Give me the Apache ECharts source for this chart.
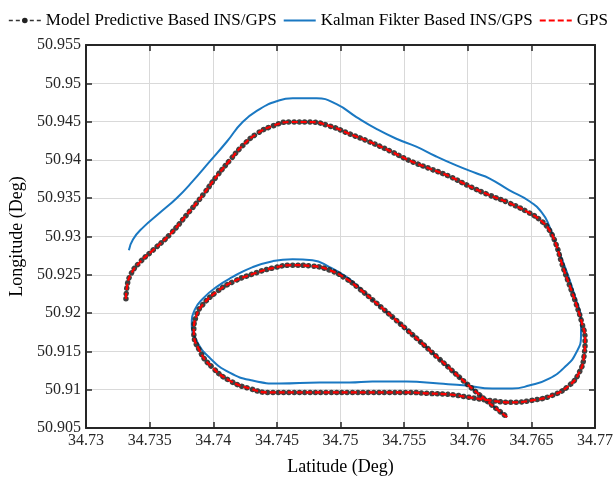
<!DOCTYPE html>
<html>
<head>
<meta charset="utf-8">
<script src="https://cdn.jsdelivr.net/npm/echarts@6/dist/echarts.min.js"></script>
<style>
  html, body { margin: 0; padding: 0; background: #fff; }
  #main { width: 616px; height: 481px; }
</style>
</head>
<body>
<div id="main"></div>
<script>
// 轴刻度
var latTicks = [34.73, 34.77, 0.005];
var lonTicks = [50.905, 50.955, 0.005];

// GPS 轨迹 [纬度, 经度]
var gpsTrack = [
    [34.73314, 50.92188], [34.73322, 50.92343], [34.73353, 50.92510], [34.73424, 50.92665],
    [34.73525, 50.92820], [34.73659, 50.93026], [34.73792, 50.93284], [34.73918, 50.93541],
    [34.74027, 50.93786], [34.74129, 50.93992], [34.74231, 50.94186], [34.74341, 50.94340],
    [34.74467, 50.94443], [34.74600, 50.94495], [34.74757, 50.94495], [34.74914, 50.94443],
    [34.75071, 50.94340], [34.75227, 50.94237], [34.75384, 50.94121], [34.75541, 50.93992],
    [34.75698, 50.93889], [34.75855, 50.93786], [34.76012, 50.93657], [34.76169, 50.93541],
    [34.76325, 50.93438], [34.76482, 50.93309], [34.76576, 50.93206], [34.76639, 50.93090],
    [34.76694, 50.92897], [34.76741, 50.92639], [34.76796, 50.92381], [34.76851, 50.92124],
    [34.76898, 50.91866], [34.76922, 50.91660], [34.76914, 50.91441], [34.76875, 50.91222],
    [34.76796, 50.91054], [34.76663, 50.90925], [34.76506, 50.90861], [34.76349, 50.90835],
    [34.76169, 50.90861], [34.76012, 50.90900], [34.75855, 50.90938], [34.75698, 50.90951],
    [34.75541, 50.90964], [34.75384, 50.90964], [34.75227, 50.90964], [34.75071, 50.90964],
    [34.74914, 50.90964], [34.74757, 50.90964], [34.74600, 50.90964], [34.74443, 50.90964],
    [34.74286, 50.91015], [34.74129, 50.91119], [34.73996, 50.91286], [34.73894, 50.91505],
    [34.73847, 50.91763], [34.73871, 50.91982], [34.73918, 50.92111], [34.74027, 50.92278],
    [34.74153, 50.92407], [34.74310, 50.92510], [34.74467, 50.92588], [34.74624, 50.92626],
    [34.74780, 50.92613], [34.74914, 50.92562], [34.75047, 50.92446], [34.75149, 50.92317],
    [34.75251, 50.92175], [34.75518, 50.91789], [34.75776, 50.91402], [34.76035, 50.91015],
    [34.76192, 50.90796], [34.76310, 50.90642]
];

// 模型预测 INS/GPS 轨迹 (与 GPS 基本重合)
var mpcTrack = gpsTrack;

// 卡尔曼滤波 INS/GPS 轨迹
var kfTrack = [
    [34.73337, 50.92820], [34.73369, 50.92961], [34.73447, 50.93116], [34.73580, 50.93309],
    [34.73714, 50.93503], [34.73839, 50.93722], [34.73973, 50.93980], [34.74106, 50.94237],
    [34.74231, 50.94495], [34.74365, 50.94663], [34.74498, 50.94766], [34.74624, 50.94804],
    [34.74812, 50.94804], [34.74969, 50.94727], [34.75125, 50.94559], [34.75282, 50.94405],
    [34.75439, 50.94276], [34.75596, 50.94173], [34.75753, 50.94044], [34.75910, 50.93928],
    [34.76067, 50.93825], [34.76169, 50.93760], [34.76325, 50.93606], [34.76482, 50.93464],
    [34.76584, 50.93309], [34.76639, 50.93142], [34.76694, 50.92897], [34.76773, 50.92562],
    [34.76851, 50.92175], [34.76890, 50.91918], [34.76890, 50.91699], [34.76851, 50.91479],
    [34.76773, 50.91312], [34.76639, 50.91144], [34.76482, 50.91054], [34.76349, 50.91015],
    [34.76192, 50.91015], [34.75988, 50.91054], [34.75776, 50.91080], [34.75518, 50.91106],
    [34.75251, 50.91106], [34.75071, 50.91093], [34.74835, 50.91093], [34.74522, 50.91080],
    [34.74310, 50.91119], [34.74129, 50.91222], [34.73973, 50.91415], [34.73871, 50.91634],
    [34.73831, 50.91853], [34.73855, 50.92046], [34.73918, 50.92188], [34.74027, 50.92343],
    [34.74153, 50.92472], [34.74310, 50.92601], [34.74467, 50.92678], [34.74624, 50.92704],
    [34.74780, 50.92691], [34.74914, 50.92601], [34.75047, 50.92472], [34.75149, 50.92330],
    [34.75251, 50.92175], [34.75518, 50.91789], [34.75776, 50.91402], [34.76035, 50.91015],
    [34.76192, 50.90796], [34.76310, 50.90642]
];

var names = ["Model Predictive Based INS/GPS", "Kalman Fikter Based INS/GPS", "GPS"];

var font = "Liberation Serif";
var axisColor = "#262626";

var chart = echarts.init(document.getElementById("main"));

var option = {
    animation: false,
    backgroundColor: "#fff",
    legend: {
        top: 7,
        left: "center",
        itemWidth: 32,
        itemHeight: 7,
        itemGap: 6,
        textStyle: { fontFamily: font, fontSize: 17, color: "#000" },
        data: [
            {
                name: names[0],
                lineStyle: { color: "#333", width: 1.5, type: [4, 3], cap: "butt", opacity: 1 },
                itemStyle: { color: "#222", opacity: 1 }
            },
            { name: names[1], itemStyle: { opacity: 0 } },
            { name: names[2], itemStyle: { opacity: 0 } }
        ]
    },
    grid: { left: 86, right: 20, top: 45, bottom: 48 },
    xAxis: [{
        type: "value",
        min: latTicks[0], max: latTicks[1], interval: latTicks[2],
        name: "Latitude (Deg)",
        nameLocation: "middle",
        nameGap: 30,
        nameTextStyle: { fontFamily: font, fontSize: 18, color: "#000" },
        axisLine: { show: true, lineStyle: { color: axisColor, width: 2 } },
        axisTick: { show: true, inside: true, length: 6, lineStyle: { color: axisColor, width: 1.5 } },
        axisLabel: { fontFamily: font, fontSize: 16, color: axisColor, margin: 5 },
        splitLine: { show: true, lineStyle: { color: "#d9d9d9", width: 1 } }
    }, {
        type: "value",
        position: "top",
        min: latTicks[0], max: latTicks[1], interval: latTicks[2],
        axisLine: { show: true, lineStyle: { color: axisColor, width: 2 } },
        axisTick: { show: true, inside: true, length: 6, lineStyle: { color: axisColor, width: 1.5 } },
        axisLabel: { show: false },
        splitLine: { show: false }
    }],
    yAxis: [{
        type: "value",
        min: lonTicks[0], max: lonTicks[1], interval: lonTicks[2],
        name: "Longitude (Deg)",
        nameLocation: "middle",
        nameGap: 60,
        nameTextStyle: { fontFamily: font, fontSize: 18, color: "#000" },
        axisLine: { show: true, lineStyle: { color: axisColor, width: 2 } },
        axisTick: { show: true, inside: true, length: 6, lineStyle: { color: axisColor, width: 1.5 } },
        axisLabel: { fontFamily: font, fontSize: 16, color: axisColor, margin: 5 },
        splitLine: { show: true, lineStyle: { color: "#d9d9d9", width: 1 } }
    }, {
        type: "value",
        position: "right",
        min: lonTicks[0], max: lonTicks[1], interval: lonTicks[2],
        axisLine: { show: true, lineStyle: { color: axisColor, width: 2 } },
        axisTick: { show: true, inside: true, length: 6, lineStyle: { color: axisColor, width: 1.5 } },
        axisLabel: { show: false },
        splitLine: { show: false }
    }],
    series: [
        {
            name: names[1],
            type: "line",
            data: kfTrack,
            smooth: 0.5,
            symbol: "none",
            z: 2,
            lineStyle: { color: "#1a78c2", width: 2 },
            itemStyle: { color: "#1a78c2" }
        },
        {
            name: names[0],
            type: "line",
            data: mpcTrack,
            smooth: 0.5,
            symbol: "circle",
            showSymbol: false,
            z: 3,
            // 黑色圆点串
            lineStyle: { color: "#1e1e1e", width: 5.5, type: [0.1, 5.2], cap: "round", opacity: 0.85 },
            itemStyle: { color: "#222" }
        },
        {
            name: names[2],
            type: "line",
            data: gpsTrack,
            smooth: 0.5,
            symbol: "none",
            z: 4,
            lineStyle: { color: "#ff0000", width: 2.2, type: [6, 3] },
            itemStyle: { color: "#ff0000" }
        }
    ]
};

chart.setOption(option);
</script>
</body>
</html>
